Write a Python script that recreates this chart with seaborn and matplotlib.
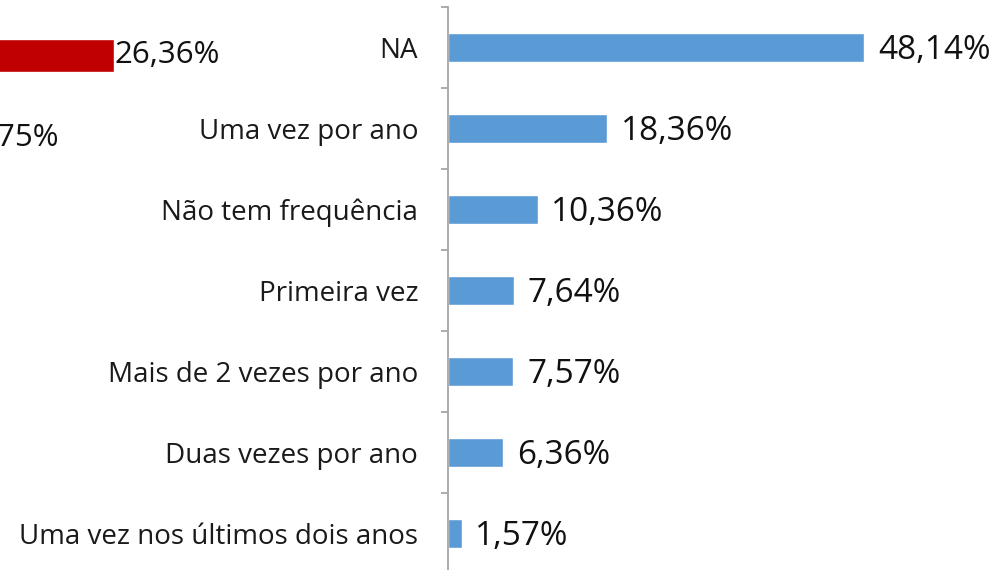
import matplotlib
matplotlib.use("Agg")
import matplotlib.pyplot as plt
import seaborn as sns
import pandas as pd
from matplotlib.ticker import FixedLocator

# Frequency of visits (main chart)
categories = [
    "NA",
    "Uma vez por ano",
    "Não tem frequência",
    "Primeira vez",
    "Mais de 2 vezes por ano",
    "Duas vezes por ano",
    "Uma vez nos últimos dois anos",
]
values = [48.14, 18.36, 10.36, 7.64, 7.57, 6.36, 1.57]

# Neighbouring chart (mostly outside the frame)
side_categories = ["A", "B"]
side_values = [26.36, 9.75]

BLUE = "#5B9BD5"
RED = "#C00000"
FONT = ["Open Sans", "DejaVu Sans"]

sns.set_theme(style="white")
plt.rcParams["font.family"] = FONT

W, H = 994, 570
fig = plt.figure(figsize=(W / 100, H / 100), dpi=100)
fig.patch.set_facecolor("white")

PX_PER_UNIT = 8.64  # pixels per percentage point


def fmt(v):
    return f"{v:.2f}".replace(".", ",") + "%"


# ---- main chart ----
x0, top_px, bot_px = 448, 7, 574
xmax = 60
ax = fig.add_axes([x0 / W, 1 - bot_px / H, xmax * PX_PER_UNIT / W, (bot_px - top_px) / H])
df = pd.DataFrame({"cat": categories, "val": values})
sns.barplot(data=df, x="val", y="cat", color=BLUE, width=0.37, saturation=1, ax=ax)
ax.set_xlim(0, xmax)
ax.set_ylim(len(categories) - 0.5, -0.5)
ax.set_xlabel("")
ax.set_ylabel("")
ax.set_xticks([])
for s in ["top", "right", "bottom"]:
    ax.spines[s].set_visible(False)
ax.spines["left"].set_color("#A6A6A6")
ax.spines["left"].set_linewidth(1.3)
ax.tick_params(axis="y", which="major", length=0, pad=21.5, labelsize=20, labelcolor="#1a1a1a")
ax.yaxis.set_minor_locator(FixedLocator([i - 0.5 for i in range(len(categories) + 1)]))
ax.tick_params(axis="y", which="minor", length=5, width=1.3, color="#A6A6A6", left=True)
labels = ax.bar_label(ax.containers[0], labels=[fmt(v) for v in values], padding=10,
                      fontsize=24, color="#111111")
for t in labels:
    t.xyann = (10, -2.5)
ax.patch.set_alpha(0)

# ---- neighbouring chart ----
sx0 = 114 - side_values[0] * PX_PER_UNIT
s_top, s_bot = 14, 179
sxmax = 30
ax2 = fig.add_axes([sx0 / W, 1 - s_bot / H, sxmax * PX_PER_UNIT / W, (s_bot - s_top) / H])
sdf = pd.DataFrame({"cat": side_categories, "val": side_values})
sns.barplot(data=sdf, x="val", y="cat", color=RED, width=0.4, saturation=1, ax=ax2)
ax2.set_xlim(0, sxmax)
ax2.set_ylim(len(side_categories) - 0.5, -0.5)
ax2.set_axis_off()
ax2.bar_label(ax2.containers[0], labels=[fmt(v) for v in side_values], padding=0.5,
              fontsize=22.5, color="#111111")

fig.savefig("out.png", dpi=100, facecolor="white")
